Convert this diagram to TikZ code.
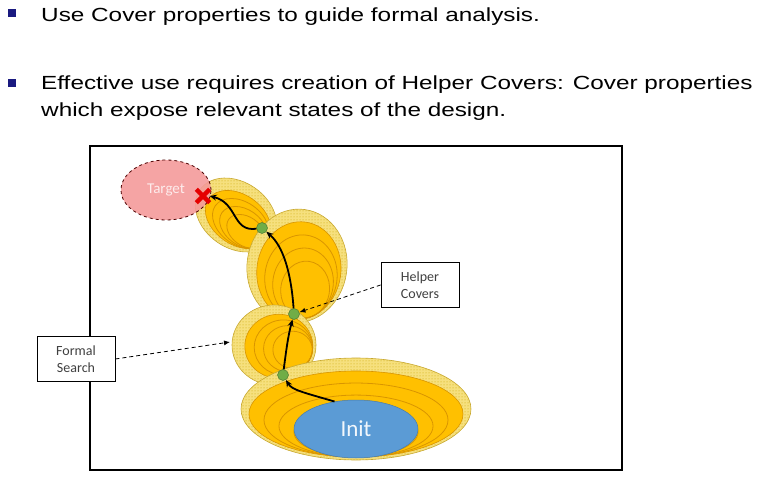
\documentclass[tikz,border=0pt]{standalone}
\usepackage{fontspec}
\setmainfont{Liberation Sans}
\newfontfamily\wide[FakeStretch=1.28]{Liberation Sans}
\newfontfamily\calib{Carlito}
\usetikzlibrary{patterns,arrows.meta,shapes.geometric}
\definecolor{ringfill}{HTML}{F6E07E}
\definecolor{dotcol}{HTML}{C9A400}
\definecolor{corefill}{HTML}{FFC000}
\definecolor{contour}{HTML}{D99500}
\definecolor{edgecol}{HTML}{C8A830}
\definecolor{bulletblue}{HTML}{1A1A80}
\definecolor{initblue}{HTML}{5B9BD5}
\definecolor{targetpink}{HTML}{F49A9A}
\definecolor{dotgreen}{HTML}{70AD47}
\newcommand\coverblob[6]{%
\begin{scope}[shift={(#1,#2)},rotate=#5]
 \fill[ringfill] (0,0) ellipse[x radius=#3,y radius=#4];
 \fill[pattern=dots,pattern color=dotcol] (0,0) ellipse[x radius=#3,y radius=#4];
 \draw[edgecol,line width=0.6] (0,0) ellipse[x radius=#3,y radius=#4];
 \pgfmathsetmacro\ca{#3-8}\pgfmathsetmacro\cb{#4-8}
 \fill[corefill,draw=contour,line width=0.6] ({5*cos(#6)},{5*sin(#6)}) ellipse[x radius=\ca,y radius=\cb];
 \foreach \s in {0.86,0.72,0.58}{
  \draw[contour,line width=0.8] ({5*cos(#6)+(1-\s)*\ca*cos(#6)},{5*sin(#6)+(1-\s)*\cb*sin(#6)}) ellipse[x radius=\s*\ca,y radius=\s*\cb];}
\end{scope}}
\tikzset{
 bullettext/.style={anchor=base west,inner sep=0,font=\wide\fontsize{19}{26}\selectfont},
 bulletsq/.style={fill=bulletblue,minimum size=8,inner sep=0},
 labelbox/.style={draw,fill=white,line width=0.8,minimum width=78,minimum height=45,align=center,inner sep=1,font=\calib\fontsize{14}{17}\selectfont,text=black!75},
 flow/.style={line width=1.8,-{Stealth[length=7,width=6]}},
 dasharrow/.style={line width=0.8,dash pattern=on 4 off 3,-{Latex[length=6,width=5]}},
 gdot/.style={circle,fill=dotgreen,draw=dotgreen!70!black,line width=0.5,minimum size=11,inner sep=0},
}
\begin{document}
\begin{tikzpicture}[x=1pt,y=-1pt]
\useasboundingbox (0,0) rectangle (758,478);
% bullets
\node[bulletsq] (b1) at (12,13) {};
\node[bulletsq] (b2) at (12,83) {};
\node[bullettext] (t1) at (41,22) {Use Cover properties to guide formal analysis.};
\node[bullettext] (t2) at (41,90) {Effective use requires creation of Helper Covers: Cover properties};
\node[bullettext] (t3) at (41,117) {which expose relevant states of the design.};
% frame
\draw[line width=1.3] (90,146) rectangle (622,470);
% blobs
\coverblob{236}{215}{44}{33}{-35}{30}
\coverblob{297}{266}{50}{57}{-8}{60}
\coverblob{274}{345}{42}{40}{0}{15}
\coverblob{356}{409}{115}{51}{0}{90}
% init
\node[ellipse,fill=initblue,draw=initblue!80!black,line width=0.5,minimum width=124,minimum height=58,inner sep=0,text=white!92!initblue,font=\calib\fontsize{23}{23}\selectfont] (init) at (356,429) {Init};
% target
\node[ellipse,fill=targetpink,fill opacity=0.9,text opacity=1,draw=black!70!red,dashed,line width=0.8,minimum width=90,minimum height=60,inner sep=0,text=white!80!targetpink,font=\calib\fontsize{15}{15}\selectfont] (target) at (166,190) {Target};
% green dots
\node[gdot] (d1) at (262,228) {};
\node[gdot] (d2) at (294,314) {};
\node[gdot] (d3) at (283,375) {};
% red cross
\node[minimum size=13,inner sep=0] (xm) at (203,196) {};
% flow arrows
\draw[flow] (init.128) .. controls (302,392) and (292,390) .. (d3);
\draw[flow] (d3) .. controls (286,352) and (288,336) .. (d2);
\draw[flow] (d2) .. controls (291,272) and (283,246) .. (d1);
\draw[flow] (d1) .. controls (232,232) and (238,203) .. (xm.east);
\draw[red!90!black,line width=4.5] (xm.north west) -- (xm.south east) (xm.north east) -- (xm.south west);
% label boxes
\node[labelbox] (helper) at (420,285) {Helper\\Covers};
\node[labelbox] (formal) at (76,359) {Formal\\Search};
\coordinate (fs) at (230,342);
\draw[dasharrow] (helper.west) -- (d2);
\draw[dasharrow] (formal.east) -- (fs);
\end{tikzpicture}
\end{document}
